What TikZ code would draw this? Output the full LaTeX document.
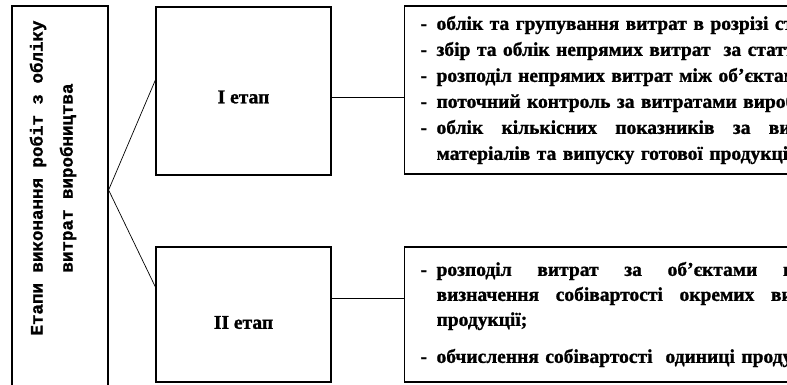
\documentclass[tikz,border=0pt]{standalone}
\usepackage{fontspec}
\setmainfont{Liberation Serif}[BoldFeatures={FakeBold=1.2}]
\newfontfamily\stagemono{Liberation Mono}[BoldFeatures={FakeBold=1.2}]
\usetikzlibrary{arrows.meta,positioning,calc}

\newcommand{\dashitem}{\makebox[16pt][l]{-}}
\newcommand{\hangin}{\hspace*{16pt}}

\begin{document}
\begin{tikzpicture}[x=1pt, y=-1pt,
  frame/.style={draw, line width=1.2pt, inner sep=0pt},
  stage/.style={frame, minimum width=175pt, font=\fontsize{19.5}{23}\selectfont\bfseries},
  listbox/.style={frame, anchor=west, inner xsep=16pt, inner ysep=0pt, text width=660pt, align=left},
  link/.style={line width=1pt},
  fan/.style={line width=0.7pt},
]
\useasboundingbox (0,0) rectangle (787,385);
\clip (0,0) rectangle (787,385);

% ─── Left: stages of cost accounting ───
\node[frame, minimum width=96pt, minimum height=404pt] (leftbox) at (60,208) {};
\node[rotate=90, align=center, font=\stagemono\fontsize{17.5}{30}\selectfont\bfseries] (lefttext) at (53,178)
  {Етапи виконання робіт з обліку\\витрат виробництва};

% ─── Middle: the two stages ───
\node[stage, minimum height=168pt] (stageone) at (243.5,91) {\raisebox{-6pt}[\height][\depth]{I етап}};
\node[stage, minimum height=135pt] (stagetwo) at (243.5,314.5) {\raisebox{-8pt}[\height][\depth]{II етап}};

\coordinate (fan) at ([yshift=18pt]leftbox.east);
\draw[fan] (fan) -- ([yshift=11pt]stageone.west);
\draw[fan] (fan) -- ([yshift=27.5pt]stagetwo.west);

% ─── Right: content of each stage ───
\node[listbox, minimum height=168pt, font=\fontsize{19.5}{26}\selectfont\bfseries] (listone) at (404,90) {%
  \dashitem облік та групування витрат в розрізі статей калькуляції;\\
  \dashitem збір та облік непрямих витрат\ \ за статтями;\\
  \dashitem розподіл непрямих витрат між об’єктами;\\
  \dashitem поточний контроль за витратами виробництва;\\
  \dashitem \makebox[428pt][l]{облік\hfill кількісних\hfill показників\hfill за\hfill витратами}\\
  \hangin матеріалів та випуску готової продукції;};

\node[listbox, minimum height=135pt, font=\fontsize{19.5}{25}\selectfont\bfseries] (listtwo) at (404,314.5) {%
  \dashitem \makebox[488pt][l]{розподіл\hfill витрат\hfill за\hfill об’єктами\hfill калькулювання}\\
  \hangin \makebox[382pt][l]{визначення\hfill собівартості\hfill окремих\hfill видів}\\
  \hangin продукції;\\[12pt]
  \dashitem обчислення собівартості\ \ одиниці продукції.};

\draw[link] ([yshift=-7pt]stageone.east) -- ([yshift=-7pt]stageone.east -| listone.west);
\draw[link] ([yshift=16.5pt]stagetwo.east) -- ([yshift=16.5pt]stagetwo.east -| listtwo.west);

\end{tikzpicture}
\end{document}
